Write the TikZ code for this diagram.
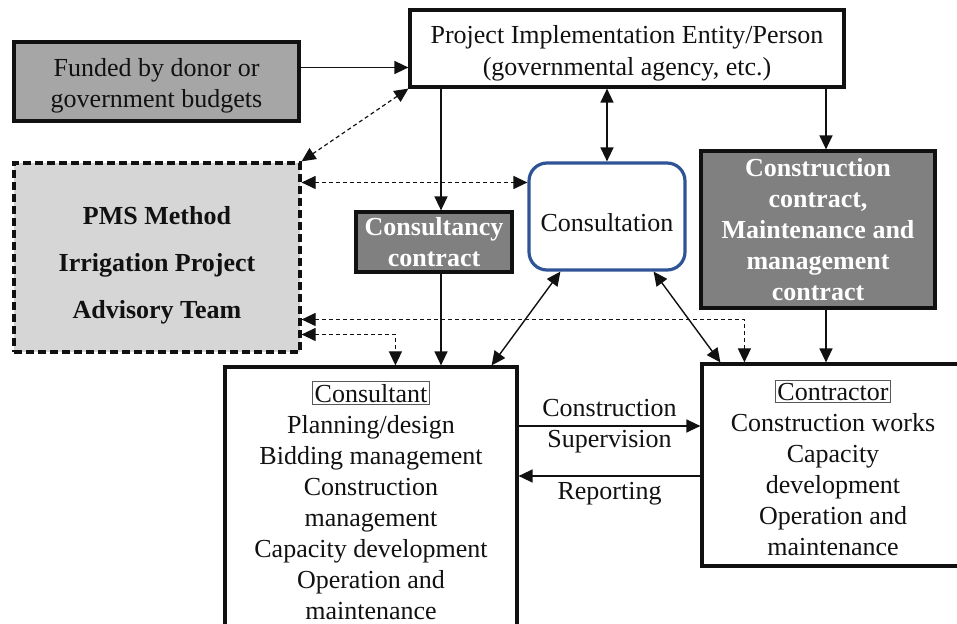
\documentclass[tikz,border=0pt]{standalone}
\usepackage{fontspec}
\setmainfont{Liberation Serif}
\usepackage{xcolor}
\usepackage{tikz}
\usetikzlibrary{arrows.meta, positioning}
\definecolor{Ink}{HTML}{111111}
\definecolor{FundGray}{HTML}{A6A6A6}
\definecolor{TeamGray}{HTML}{D6D6D6}
\definecolor{DealGray}{HTML}{808080}
\definecolor{TalkBlue}{HTML}{2F5496}
\newcommand{\rolebox}[1]{{\setlength{\fboxsep}{0.8pt}\setlength{\fboxrule}{0.5pt}\fcolorbox{Ink!70}{white}{#1}}}
\tikzset{
  panel/.style={draw=Ink, line width=1.6pt, align=center, inner sep=0pt, text=Ink, font=\fontsize{13}{15.5}\selectfont},
  fundbox/.style={panel, fill=FundGray},
  plainbox/.style={panel, fill=white},
  teambox/.style={panel, fill=TeamGray, dash pattern=on 4pt off 2pt},
  dealbox/.style={panel, fill=DealGray, text=white, font=\bfseries\fontsize{13}{15.5}\selectfont},
  talkbox/.style={panel, draw=TalkBlue, rounded corners=9pt},
  link/.style={-{Triangle[length=7pt, width=6.5pt]}, line width=0.7pt, color=Ink},
  duallink/.style={{Triangle[length=7pt, width=6.5pt]}-{Triangle[length=7pt, width=6.5pt]}, line width=0.7pt, color=Ink},
  dashlink/.style={duallink, line width=0.6pt, dash pattern=on 2pt off 1.5pt},
  arrowtext/.style={color=Ink, align=center, inner sep=0pt, font=\fontsize{13}{15.5}\selectfont},
  teamtext/.style={arrowtext, font=\bfseries\fontsize{13}{23.5}\selectfont},
}

\begin{document}
\begin{tikzpicture}[x=0.5pt, y=-0.5pt]
  \clip (0,0) rectangle (957,624);

  % Top row
  \node[fundbox, minimum width=142.5pt, minimum height=39.5pt] (fund) at (156.5,81.5) {};
  \node[arrowtext] (fundtext) at ([yshift=-2pt]fund.center) {Funded by donor or\\government budgets};
  \node[plainbox, minimum width=217pt, minimum height=38.5pt] (pie) at (627,48.5) {};
  \node[arrowtext, font=\fontsize{13}{16}\selectfont] (pietext) at ([yshift=-2.5pt]pie.center) {Project Implementation Entity/Person\\(governmental agency, etc.)};

  % Middle row
  \node[teambox, minimum width=143pt, minimum height=94.5pt] (pms) at (157,257.5) {};
  \node[teamtext] (pmstext) at ([yshift=-4pt]pms.center) {PMS Method\\Irrigation Project\\Advisory Team};
  \node[talkbox, minimum width=78pt, minimum height=53.5pt] (talk) at (607,216.5) {};
  \node[arrowtext] (talktext) at ([yshift=-3pt]talk.center) {Consultation};
  \node[dealbox, minimum width=78pt, minimum height=30pt] (deal) at (434,242) {Consultancy\\contract};
  \node[dealbox, minimum width=117pt, minimum height=78.5pt] (work) at (818,229.5) {Construction\\contract,\\Maintenance and\\management\\contract};

  % Bottom row
  \node[plainbox, minimum width=146pt, minimum height=136.5pt] (consultant) at (371,503.5) {};
  \node[arrowtext, anchor=north] (consultantlist) at (371,381) {\rolebox{Consultant}\\Planning/design\\Bidding management\\Construction\\management\\Capacity development\\Operation and\\maintenance};
  \node[plainbox, minimum width=134pt, minimum height=101pt] (contractor) at (836,465) {};
  \node[arrowtext, anchor=north] (contractorlist) at (833,380) {\rolebox{Contractor}\\Construction works\\Capacity\\development\\Operation and\\maintenance};

  % Funding and contracts
  \coordinate (f1) at ([yshift=7pt]fund.east);
  \draw[link] (f1) -- (f1 -| pie.west);
  \coordinate (k1) at ([xshift=3.5pt]deal.north);
  \draw[link] (k1 |- pie.south) -- (k1);
  \coordinate (k2) at ([xshift=3.5pt]deal.south);
  \draw[link] (k2) -- (k2 |- consultant.north);
  \coordinate (w1) at ([xshift=4pt]work.north);
  \draw[link] (w1 |- pie.south) -- (w1);
  \coordinate (w2) at ([xshift=4pt]work.south);
  \draw[link] (w2) -- (w2 |- contractor.north);

  % Consultation links
  \draw[duallink] (talk.north |- pie.south) -- (talk.north);
  \draw[duallink] ([xshift=16.5pt]talk.south west) -- ([xshift=-13.5pt]consultant.north east);
  \draw[duallink] ([xshift=-16.5pt]talk.south east) -- ([xshift=10pt]contractor.north west);

  % Advisory team links
  \draw[dashlink] (pie.south west) -- (pms.north east);
  \coordinate (t1) at ([yshift=17pt]talk.west);
  \draw[dashlink] (t1 -| pms.east) -- (t1);
  \coordinate (d1) at ([yshift=-31pt]pms.east);
  \coordinate (d2) at ([xshift=22pt]contractor.north west);
  \draw[dashlink] (d1) -| (d2);
  \coordinate (d3) at ([yshift=-38.5pt]pms.east);
  \coordinate (d4) at ([xshift=86pt]consultant.north west);
  \draw[dashlink] (d3) -| (d4);

  % Supervision and reporting
  \coordinate (s1) at ([yshift=38.75pt]consultant.east);
  \draw[link] (s1) -- (s1 -| contractor.west) node[midway, arrowtext] {Construction\\Supervision};
  \coordinate (s2) at ([yshift=13.75pt]consultant.east);
  \draw[link] (s2 -| contractor.west) -- (s2) node[midway, below=3pt, arrowtext] {Reporting};
\end{tikzpicture}
\end{document}
